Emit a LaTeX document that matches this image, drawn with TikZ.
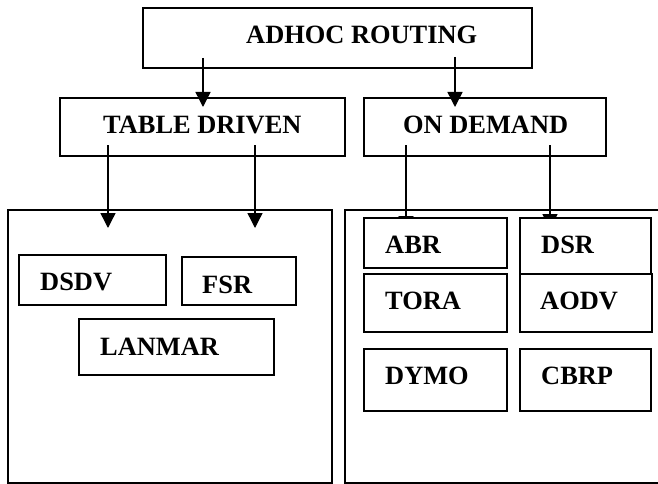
\documentclass[tikz,border=0pt]{standalone}
\usepackage{fontspec}
\setmainfont{Liberation Serif}
\usetikzlibrary{arrows.meta}
\begin{document}
\begin{tikzpicture}[x=1pt,y=-1pt,
  boxn/.style={draw=black,line width=1.5pt,fill=white,inner sep=0pt,outer sep=0pt,rectangle},
  lbl/.style={anchor=base west,inner sep=0pt,font=\fontsize{26.4}{30}\selectfont\bfseries},
  arr/.style={line width=1.4pt,-{Triangle[width=15pt,length=15pt]}}]
\useasboundingbox (0,0) rectangle (658,484);
\clip (0,0) rectangle (658,484);
% boxes: name, center, width, height
\newcommand{\mybx}[5]{\node[boxn,minimum width=#4pt,minimum height=#5pt] (#1) at (#2,#3) {};}
\mybx{adhoc}{337.5}{38}{389}{60}
\mybx{table}{202.5}{127}{285}{58}
\mybx{ondem}{485}{127}{242}{58}
\mybx{leftbig}{170}{346.5}{324}{273}
\mybx{rightbig}{507.5}{346.5}{325}{273}
% connector end points
\coordinate (a1s) at (203,58);  \coordinate (a1e) at (203,107);
\coordinate (a2s) at (455,57);  \coordinate (a2e) at (455,107);
\coordinate (b1s) at (108,145); \coordinate (b1e) at (108,228);
\coordinate (b2s) at (255,145); \coordinate (b2e) at (255,228);
\coordinate (c1s) at (406,145); \coordinate (c1e) at (406,231);
\coordinate (c2s) at (550,145); \coordinate (c2e) at (550,229);
\draw[arr] (a1s) -- (a1e);
\draw[arr] (a2s) -- (a2e);
\draw[arr] (b1s) -- (b1e);
\draw[arr] (b2s) -- (b2e);
\draw[arr] (c1s) -- (c1e);
\draw[arr] (c2s) -- (c2e);
% inner boxes
\mybx{dsdv}{92.5}{280}{147}{50}
\mybx{fsr}{239}{281}{114}{48}
\mybx{lanmar}{176.5}{347}{195}{56}
\mybx{abr}{435.5}{243}{143}{50}
\mybx{dsr}{585.5}{246}{131}{56}
\mybx{tora}{435.5}{303}{143}{58}
\mybx{aodv}{586}{303}{132}{58}
\mybx{dymo}{435.5}{380}{143}{62}
\mybx{cbrp}{585.5}{380}{131}{62}
% labels
\node[lbl] (tadhoc) at (246,44) {ADHOC ROUTING};
\node[lbl] (ttable) at (103,133) {TABLE DRIVEN};
\node[lbl] (tondem) at (403,133) {ON DEMAND};
\node[lbl] (tdsdv) at (40,290) {DSDV};
\node[lbl] (tfsr) at (202,293) {FSR};
\node[lbl] (tlanmar) at (100,355) {LANMAR};
\node[lbl] (tabr) at (385,253) {ABR};
\node[lbl] (tdsr) at (541,253) {DSR};
\node[lbl] (ttora) at (385,309) {TORA};
\node[lbl] (taodv) at (540,309) {AODV};
\node[lbl] (tdymo) at (385,384) {DYMO};
\node[lbl] (tcbrp) at (541,384) {CBRP};
\end{tikzpicture}
\end{document}
